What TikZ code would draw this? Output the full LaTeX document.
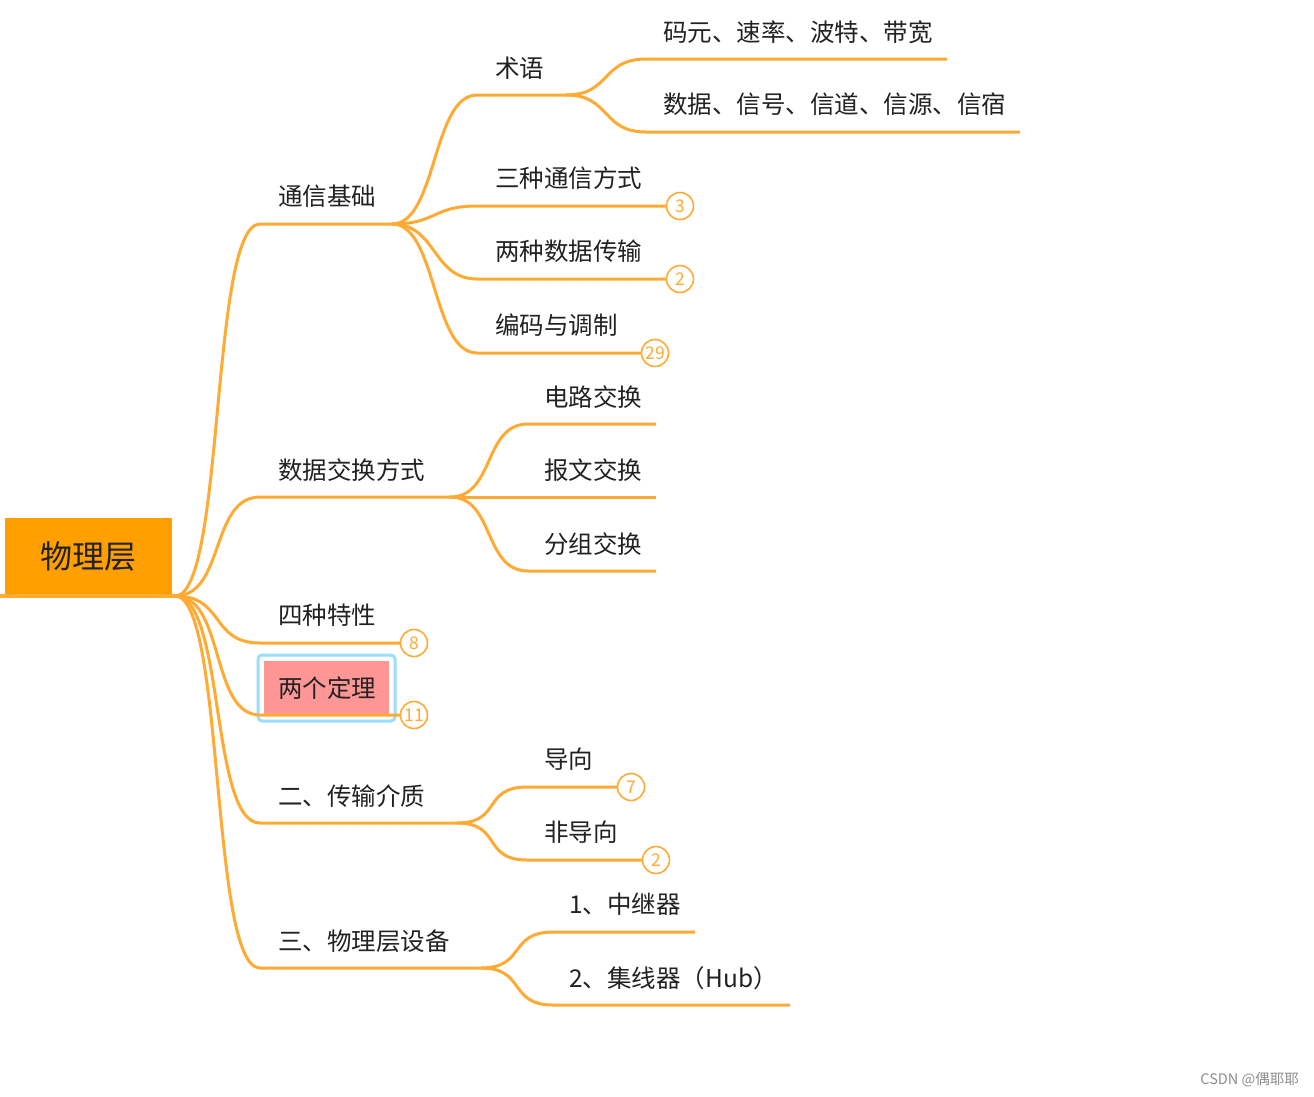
\documentclass[tikz,border=0pt]{standalone}
\usepackage{fontspec}
\newfontfamily\cjk{Noto Sans CJK SC}
\definecolor{ln}{HTML}{FFAA33}
\definecolor{rootfill}{HTML}{FFA000}
\definecolor{pinkfill}{HTML}{FF9696}
\definecolor{hlblue}{HTML}{99DDFF}
\definecolor{txt}{HTML}{222222}
\tikzset{
  lbl/.style={font=\cjk\fontsize{24.5}{27}\selectfont, text=txt, inner sep=0pt, anchor=base west},
  ln/.style={draw=ln, line width=3pt},
  br/.style={out=0, in=180, out distance=45pt, in distance=45pt},
  brroot/.style={out=0, in=180, out distance=50pt, in distance=50pt},
  badge/.style={circle, draw=ln, line width=1.6pt, fill=white, minimum size=27pt, inner sep=0pt,
                text=ln, font=\cjk\fontsize{17.5}{19}\selectfont},
  rootbox/.style={fill=rootfill, minimum width=167pt, minimum height=76pt, inner sep=0pt,
                  font=\cjk\fontsize{32}{35}\selectfont, text=txt},
}
\begin{document}
\begin{tikzpicture}[x=1pt,y=-1pt]
\useasboundingbox (0,0) rectangle (1314,1096);
\fill[white] (0,0) rectangle (1314,1096);

% root
\node[rootbox] (root) at (88.5,556) {物理层};
\coordinate (R0) at (0,596);
\coordinate (R) at (175,596);

% highlighted node background
\node[draw=hlblue, line width=3pt, rounded corners=4pt, minimum width=137pt, minimum height=66pt, inner sep=0pt] (hlframe) at (326.5,688) {};
\node[fill=pinkfill, minimum width=125pt, minimum height=54pt, inner sep=0pt] (hlbox) at (326.5,688) {};

% level 1 labels
\node[lbl] (tx) at (278,205) {通信基础};
\node[lbl] (sj) at (278,479) {数据交换方式};
\node[lbl] (sz) at (278,624) {四种特性};
\node[lbl] (ld) at (278,697) {两个定理};
\node[lbl] (cs) at (278,805) {二、传输介质};
\node[lbl] (sb) at (278,950) {三、物理层设备};

% level 2 labels
\node[lbl] (sy) at (495,77) {术语};
\node[lbl] (tx3) at (495,187) {三种通信方式};
\node[lbl] (sj2) at (495,260) {两种数据传输};
\node[lbl] (bm) at (495,334) {编码与调制};
\node[lbl] (dl) at (544,406) {电路交换};
\node[lbl] (bw) at (544,479) {报文交换};
\node[lbl] (fz) at (544,553) {分组交换};
\node[lbl] (dx) at (544,768) {导向};
\node[lbl] (fdx) at (544,841) {非导向};
\node[lbl] (zj) at (569,913) {1、中继器};
\node[lbl] (jx) at (569,987) {2、集线器（Hub）};

% level 3 labels
\node[lbl] (my) at (663,41) {码元、速率、波特、带宽};
\node[lbl] (sjx) at (663,113) {数据、信号、信道、信源、信宿};

% coordinates: level 1
\coordinate (txS) at (260,224); \coordinate (txE) at (392,224);
\coordinate (sjS) at (260,497); \coordinate (sjE) at (450,497);
\coordinate (szS) at (260,643); \coordinate (szE) at (401,643);
\coordinate (ldS) at (260,715); \coordinate (ldE) at (401,715);
\coordinate (csS) at (260,823); \coordinate (csE) at (457,823);
\coordinate (sbS) at (260,968); \coordinate (sbE) at (481,968);
% level 2
\coordinate (syS) at (477,95);  \coordinate (syE) at (566,95);
\coordinate (tx3S) at (477,206); \coordinate (tx3E) at (667,206);
\coordinate (sj2S) at (477,279); \coordinate (sj2E) at (667,279);
\coordinate (bmS) at (477,353); \coordinate (bmE) at (642,353);
\coordinate (dlS) at (528,424); \coordinate (dlE) at (656,424);
\coordinate (bwS) at (528,497); \coordinate (bwE) at (656,497);
\coordinate (fzS) at (528,571); \coordinate (fzE) at (656,571);
\coordinate (dxS) at (527,787); \coordinate (dxE) at (618,787);
\coordinate (fdxS) at (527,860); \coordinate (fdxE) at (643,860);
\coordinate (zjS) at (553,932); \coordinate (zjE) at (695,932);
\coordinate (jxS) at (553,1005); \coordinate (jxE) at (790,1005);
% level 3
\coordinate (myS) at (646,59); \coordinate (myE) at (947,59);
\coordinate (sjxS) at (646,132); \coordinate (sjxE) at (1020,132);

% root underline
\draw[draw=ln, line width=4pt] (R0) -- (R);

% branches
\foreach \c in {tx,sj,sz,ld,cs,sb}{
  \draw[ln] (R) to[brroot] (\c S) -- (\c E);
}
\foreach \c in {sy,tx3,sj2,bm}{
  \draw[ln] (txE) to[br] (\c S) -- (\c E);
}
\foreach \c in {my,sjx}{
  \draw[ln] (syE) to[br] (\c S) -- (\c E);
}
\foreach \c in {dl,bw,fz}{
  \draw[ln] (sjE) to[br] (\c S) -- (\c E);
}
\foreach \c in {dx,fdx}{
  \draw[ln] (csE) to[br] (\c S) -- (\c E);
}
\foreach \c in {zj,jx}{
  \draw[ln] (sbE) to[br] (\c S) -- (\c E);
}

% badges
\node[badge] (b3) at (680,206) {3};
\node[badge] (b2a) at (680,279) {2};
\node[badge] (b29) at (655,353) {29};
\node[badge] (b8) at (414,643) {8};
\node[badge] (b11) at (414,715) {11};
\node[badge] (b7) at (631,787) {7};
\node[badge] (b2b) at (656,860) {2};

% watermark
\node[font=\cjk\fontsize{14.5}{16}\selectfont, text=black!45, anchor=east, inner sep=0pt] (wm) at (1299,1080) {CSDN @偶耶耶};
\end{tikzpicture}
\end{document}
